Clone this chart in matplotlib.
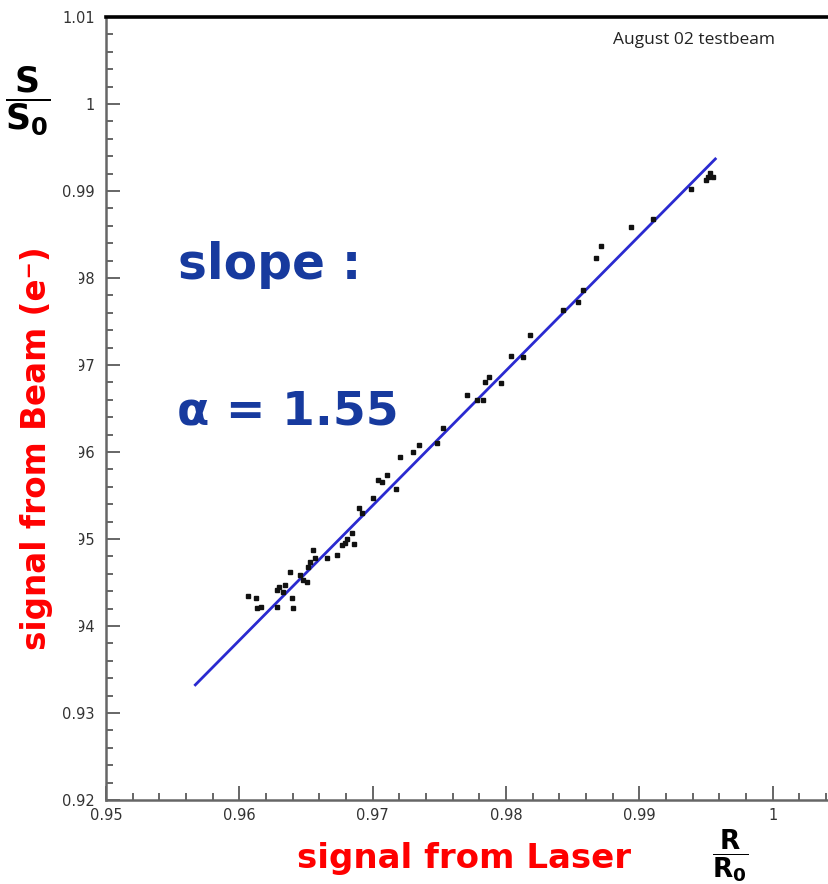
import matplotlib
matplotlib.use('Agg')
import matplotlib.pyplot as plt
import numpy as np
from matplotlib.ticker import MultipleLocator, FixedLocator, FixedFormatter

# ---------------- data ----------------
laser_ratio = [0.96067, 0.96124, 0.96130, 0.96160, 0.96280, 0.96280, 0.96299, 0.96329,
               0.96342, 0.96379, 0.96392, 0.96404, 0.96454, 0.96479, 0.96504, 0.96517,
               0.96529, 0.96554, 0.96567, 0.96654, 0.96734, 0.96767, 0.96792, 0.96804,
               0.96842, 0.96859, 0.96899, 0.96917, 0.96999, 0.97041, 0.97067, 0.97104,
               0.97174, 0.97204, 0.97299, 0.97349, 0.97479, 0.97528, 0.97704, 0.97779,
               0.97828, 0.97841, 0.97873, 0.97966, 0.98041, 0.98128, 0.98178, 0.98428,
               0.98541, 0.98578, 0.98673, 0.98716, 0.98941, 0.99103, 0.99391, 0.99515,
               0.99528, 0.99503, 0.99550]
beam_ratio = [0.94345, 0.94318, 0.94203, 0.94222, 0.94222, 0.94414, 0.94452, 0.94394,
              0.94471, 0.94624, 0.94318, 0.94203, 0.94586, 0.94529, 0.94509, 0.94682,
              0.94739, 0.94874, 0.94778, 0.94778, 0.94816, 0.94931, 0.94950, 0.95000,
              0.95066, 0.94943, 0.95353, 0.95295, 0.95468, 0.95678, 0.95659, 0.95736,
              0.95571, 0.95946, 0.95997, 0.96080, 0.96107, 0.96272, 0.96655, 0.96598,
              0.96598, 0.96808, 0.96866, 0.96790, 0.97103, 0.97095, 0.97345, 0.97632,
              0.97728, 0.97862, 0.98233, 0.98368, 0.98583, 0.98678, 0.99020, 0.99164,
              0.99203, 0.99126, 0.99161]

fit_slope = 1.55
fit_intercept = -0.54965
fit_x_range = [0.9567, 0.9957]

x_major_ticks = [0.95, 0.96, 0.97, 0.98, 0.99, 1.00]
x_tick_labels = ['0.95', '0.96', '0.97', '0.98', '0.99', '1']
y_major_ticks = [0.92, 0.93, 0.94, 0.95, 0.96, 0.97, 0.98, 0.99, 1.00, 1.01]
y_tick_labels = ['0.92', '0.93', '0.94', '0.95', '0.96', '0.97', '0.98', '0.99', '1', '1.01']

# ---------------- style ----------------
plt.rcParams['font.family'] = ['DejaVu Sans']
plt.rcParams['mathtext.fontset'] = 'custom'
plt.rcParams['mathtext.rm'] = 'DejaVu Sans'
plt.rcParams['mathtext.bf'] = 'DejaVu Sans:bold'
plt.rcParams['mathtext.it'] = 'DejaVu Sans:italic'

W, H = 829, 884
fig = plt.figure(figsize=(W / 100, H / 100), dpi=100)
fig.patch.set_facecolor('white')

ax = fig.add_axes([106 / W, 84 / H, 800 / W, 783 / H])
ax.set_xlim(0.95, 1.01)
ax.set_ylim(0.92, 1.01)

fit_x = np.array(fit_x_range)
fit_y = fit_intercept + fit_slope * fit_x
ax.plot(fit_x, fit_y, color='#2a2ad0', lw=2.0, zorder=2)
ax.plot(laser_ratio, beam_ratio, 's', ms=3.0, color='#111111', mec='#111111', zorder=3)

ax.spines['right'].set_visible(False)
ax.spines['top'].set_color('black')
ax.spines['top'].set_linewidth(2.6)
for s in ('left', 'bottom'):
    ax.spines[s].set_color('#666666')
    ax.spines[s].set_linewidth(1.8)

ax.xaxis.set_major_locator(FixedLocator(x_major_ticks))
ax.xaxis.set_major_formatter(FixedFormatter(x_tick_labels))
ax.yaxis.set_major_locator(FixedLocator(y_major_ticks))
ax.yaxis.set_major_formatter(FixedFormatter(y_tick_labels))
ax.xaxis.set_minor_locator(MultipleLocator(0.002))
ax.yaxis.set_minor_locator(MultipleLocator(0.002))
ax.tick_params(which='both', direction='in', top=False, right=False,
               color='#666666', width=1.4, labelcolor='#333333', labelsize=10.5)
ax.tick_params(which='major', length=10, pad=8)
ax.tick_params(which='minor', length=5)
ax.tick_params(axis='x', which='major', pad=6)

# ---------------- texts ----------------
blue = '#173a9e'
fig.text(178 / W, 1 - 279 / H, 'slope :', color=blue, fontsize=35,
         fontweight='bold', family=['DejaVu Sans'],
         ha='left', va='baseline')
fig.text(177 / W, 1 - 424 / H, '\u03b1 = 1.55', color=blue, fontsize=34,
         fontweight='bold', family=['DejaVu Sans'],
         ha='left', va='baseline')

fig.text(464 / W, 1 - 868 / H, 'signal from Laser', color='#ff0000', fontsize=24.5,
         fontweight='bold', family=['DejaVu Sans'],
         ha='center', va='baseline')
fig.text(37 / W, 1 - 448 / H, 'signal from Beam (e\u207b)', color='#ff0000', fontsize=23.5,
         fontweight='bold', family=['DejaVu Sans'],
         rotation=90, ha='center', va='center',
         bbox=dict(facecolor='white', edgecolor='none', pad=18.5))

fig.text(28 / W, 1 - 101 / H, r'$\mathbf{\dfrac{S}{S_0}}$', color='black',
         fontsize=25, ha='center', va='center')
fig.text(730 / W, 1 - 856 / H, r'$\mathbf{\dfrac{R}{R_0}}$', color='black',
         fontsize=19, ha='center', va='center')

fig.text(694 / W, 1 - 40 / H, 'August 02 testbeam', color='#222222', fontsize=12.5,
         family=['Open Sans', 'DejaVu Sans'], ha='center', va='center')

fig.savefig('out.png', dpi=100)
